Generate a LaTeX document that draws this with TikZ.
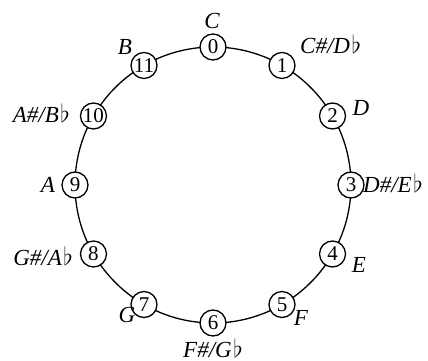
\documentclass[tikz,border=0pt]{standalone}
\usepackage{fontspec}
\setmainfont{Liberation Serif}
\usetikzlibrary{calc}
\newcommand{\fl}{\kern1.5pt$\flat$}
\begin{document}
\begin{tikzpicture}[x=1pt,y=1pt,
  pc/.style={draw,circle,fill=white,line width=1.3pt,minimum size=26pt,inner sep=0pt,font=\fontsize{21}{21}\selectfont},
  lab/.style={inner sep=0pt,font=\fontsize{23}{23}\selectfont\itshape}]
\useasboundingbox (0,0) rectangle (428,361);
\coordinate (c) at (213,176);
\draw[line width=1.3pt] (c) circle (138);
\foreach \k in {0,...,11}{
  \node[pc] (n\k) at ($(c)+({90-30*\k}:138)$) {\k};
}
\node[lab] (lC) at (212,340) {C};
\node[lab,anchor=west] (lCs) at (300,317) {C\#/D\fl};
\node[lab] (lD) at (361,253) {D};
\node[lab,anchor=west] (lDs) at (363,178) {D\#/E\fl};
\node[lab] (lE) at (359,96) {E};
\node[lab] (lF) at (301,43) {F};
\node[lab] (lFs) at (213,13) {F\#/G\fl};
\node[lab] (lG) at (127,46) {G};
\node[lab,anchor=east] (lGs) at (73,105) {G\#/A\fl};
\node[lab,anchor=east] (lA) at (55,176) {A};
\node[lab,anchor=east] (lAs) at (70,248) {A\#/B\fl};
\node[lab] (lB) at (125,314) {B};
\end{tikzpicture}
\end{document}
